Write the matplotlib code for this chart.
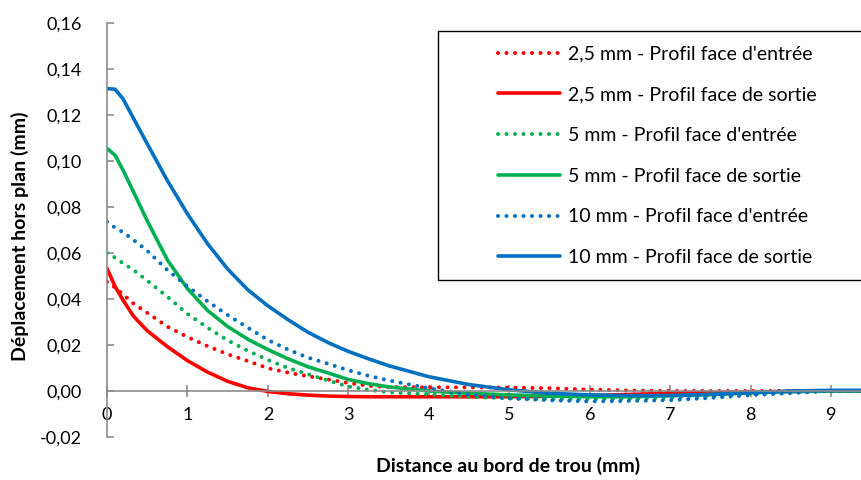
import numpy as np
import matplotlib.pyplot as plt
from matplotlib.ticker import FuncFormatter, MultipleLocator
from matplotlib.patches import Rectangle

# distance au bord de trou (mm)
x = [0, 0.1, 0.2, 0.33, 0.5, 0.75, 1, 1.25, 1.5, 1.75, 2, 2.25, 2.5, 2.75, 3, 3.25, 3.5,
     4, 4.5, 5, 5.5, 6, 6.5, 7, 7.5, 8, 8.5, 9, 9.4]

# deplacement hors plan (mm)
y25_entree = [0.0475, 0.045, 0.042, 0.038, 0.034, 0.028, 0.0235, 0.0195, 0.016, 0.013, 0.0099, 0.008, 0.0064, 0.005, 0.0035,
              0.0023, 0.0017, 0.0016, 0.0016, 0.0015, 0.0012, 0.0006, 0.0002, 0.0, 0.0, 0.0, 0.0, 0.0, 0.0]
y25_sortie = [0.0533, 0.0455, 0.0395, 0.0325, 0.0262, 0.0193, 0.0132, 0.0082, 0.0042, 0.0014, -0.0002, -0.0012, -0.0018, -0.0022, -0.0024,
              -0.0025, -0.0025, -0.0025, -0.0025, -0.0025, -0.0023, -0.002, -0.0015, -0.001, -0.0007, -0.0004, -0.0002, 0.0, 0.0]
y5_entree = [0.060, 0.058, 0.0555, 0.0526, 0.048, 0.041, 0.0335, 0.0275, 0.022, 0.0175, 0.0135, 0.010, 0.0073, 0.0045, 0.002,
             0.0005, -0.0005, -0.0015, -0.0025, -0.0032, -0.0035, -0.0035, -0.0033, -0.0028, -0.002, -0.0012, -0.0005, 0.0, 0.0]
y5_sortie = [0.1055, 0.1025, 0.096, 0.0865, 0.074, 0.057, 0.0445, 0.035, 0.028, 0.0225, 0.018, 0.014, 0.0105, 0.0078, 0.005,
             0.0032, 0.0018, 0.0, -0.001, -0.0017, -0.0022, -0.0025, -0.0025, -0.002, -0.0015, -0.0008, -0.0002, 0.0, 0.0]
y10_entree = [0.0736, 0.071, 0.069, 0.0657, 0.061, 0.0526, 0.0455, 0.039, 0.033, 0.0275, 0.0222, 0.018, 0.0145, 0.0118, 0.009,
              0.0066, 0.0046, 0.0012, -0.0015, -0.0032, -0.004, -0.0045, -0.0043, -0.004, -0.003, -0.0018, -0.0009, 0.0, 0.0]
y10_sortie = [0.1315, 0.1312, 0.127, 0.1185, 0.1075, 0.0915, 0.077, 0.064, 0.053, 0.044, 0.037, 0.031, 0.0255, 0.021, 0.0172,
              0.014, 0.011, 0.0062, 0.0028, 0.0005, -0.001, -0.0017, -0.002, -0.002, -0.0015, -0.0007, 0.0, 0.0003, 0.0003]

labels = ["2,5 mm - Profil face d'entrée", "2,5 mm - Profil face de sortie",
          "5 mm - Profil face d'entrée", "5 mm - Profil face de sortie",
          "10 mm - Profil face d'entrée", "10 mm - Profil face de sortie"]

rouge = '#FF0000'
vert = '#00B050'
bleu = '#0070C0'

plt.rcParams['font.family'] = ['Lato', 'DejaVu Sans']

fig = plt.figure(figsize=(8.61, 4.8), dpi=100)
ax = fig.add_axes([107/861, 43/480, 1 - 107/861, (437-23)/480])

pointille = (0, (0.01, 2.1))
series = [(y25_entree, rouge, pointille), (y25_sortie, rouge, '-'),
          (y5_entree, vert, pointille), (y5_sortie, vert, '-'),
          (y10_entree, bleu, pointille), (y10_sortie, bleu, '-')]
lignes = []
for (yy, c, ls), lab in zip(series, labels):
    l, = ax.plot(x, yy, color=c, linestyle=ls, lw=2.6 if ls == '-' else 2.9,
                 solid_capstyle='round', dash_capstyle='round',
                 solid_joinstyle='round', label=lab)
    lignes.append(l)

ax.set_xlim(0, 9.37)
ax.set_ylim(-0.02, 0.16)
ax.xaxis.set_major_locator(MultipleLocator(1))
ax.yaxis.set_major_locator(MultipleLocator(0.02))
ax.yaxis.set_major_formatter(FuncFormatter(lambda v, p: f'{v:.2f}'.replace('.', ',')))

for s in ['top', 'right']:
    ax.spines[s].set_visible(False)
ax.spines['bottom'].set_position(('data', 0))
for s in ['left', 'bottom']:
    ax.spines[s].set_color('#8c8c8c')
    ax.spines[s].set_linewidth(1.2)

ax.tick_params(axis='x', direction='inout', length=9, width=1.2, color='#8c8c8c',
               labelsize=13, pad=7)
ax.tick_params(axis='y', direction='in', length=5, width=1.2, color='#8c8c8c',
               labelsize=13, pad=18)

fig.text(508/861, 1 - 466/480, 'Distance au bord de trou (mm)', ha='center', va='center',
         fontsize=14, fontweight='bold')
fig.text(20/861, 1 - 236/480, 'Déplacement hors plan (mm)', ha='center', va='center',
         rotation=90, fontsize=14, fontweight='bold')

# cadre de la legende
fig.patches.append(Rectangle((438/861, 1 - 280/480), 430/861, 249/480,
                             transform=fig.transFigure, fill=False,
                             edgecolor='black', lw=1.0))
leg = ax.legend(lignes, labels, loc='upper left', bbox_to_anchor=(480/861, 1 - 28/480),
                bbox_transform=fig.transFigure, frameon=False, fontsize=14,
                handlelength=3.2, handletextpad=0.4, labelspacing=1.22)

fig.savefig('out.png', dpi=100)
